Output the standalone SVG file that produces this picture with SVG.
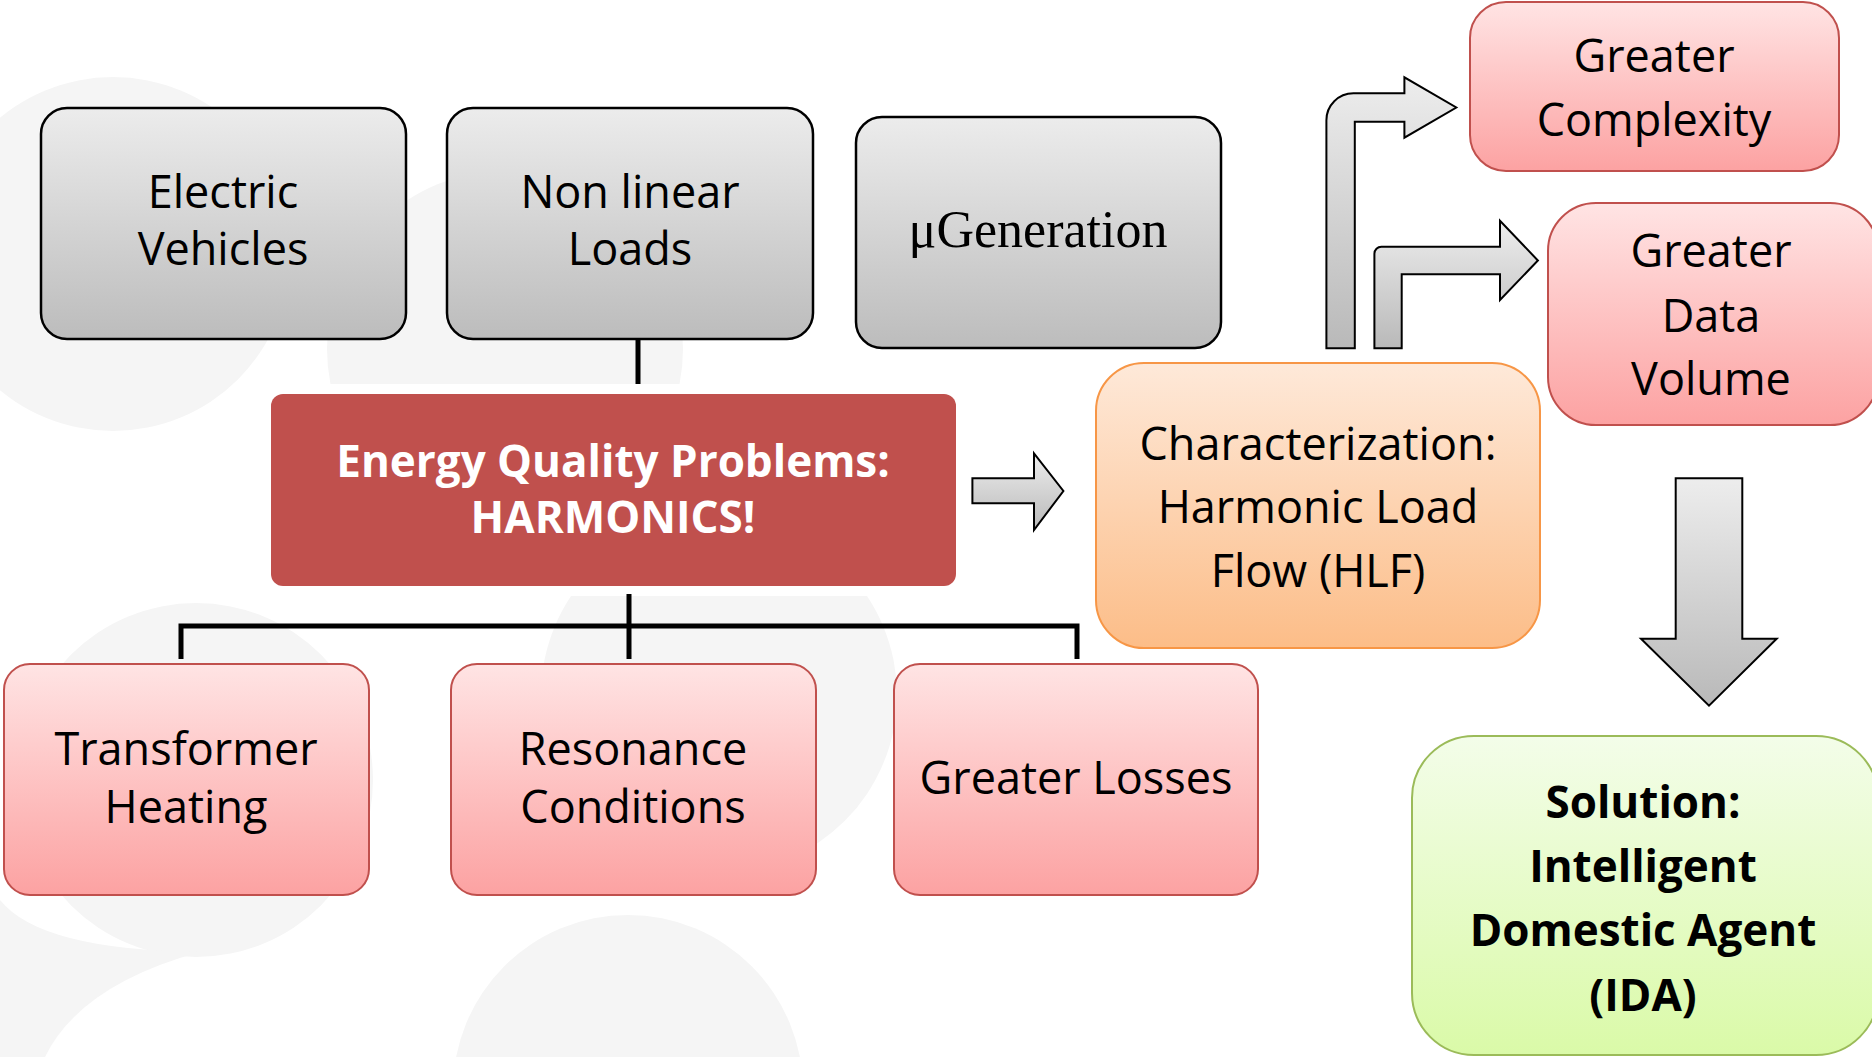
<svg xmlns="http://www.w3.org/2000/svg" width="1872" height="1057" viewBox="0 0 1872 1057">
<defs>
<linearGradient id="gGray" x1="0" y1="0" x2="0" y2="1"><stop offset="0" stop-color="#ececec"/><stop offset="1" stop-color="#bcbcbc"/></linearGradient>
<linearGradient id="gArrow" x1="0" y1="0" x2="0" y2="1"><stop offset="0" stop-color="#ededed"/><stop offset="1" stop-color="#b9b9b9"/></linearGradient>
<linearGradient id="gPink" x1="0" y1="0" x2="0" y2="1"><stop offset="0" stop-color="#ffe4e4"/><stop offset="1" stop-color="#fca2a2"/></linearGradient>
<linearGradient id="gOrange" x1="0" y1="0" x2="0" y2="1"><stop offset="0" stop-color="#fee9d9"/><stop offset="1" stop-color="#fcbd88"/></linearGradient>
<linearGradient id="gGreen" x1="0" y1="0" x2="0" y2="1"><stop offset="0" stop-color="#f3fde9"/><stop offset="1" stop-color="#dafaa8"/></linearGradient>
<style>
.gray{fill:url(#gGray);stroke:#000;stroke-width:2.5}
.pink{fill:url(#gPink);stroke:#c0504d;stroke-width:2}
.arrow{fill:url(#gArrow);stroke:#000;stroke-width:2;stroke-linejoin:miter}
.t{font-family:"Open Sans","Liberation Sans",sans-serif;font-size:45px;fill:#000;text-anchor:middle}
.b{font-family:"Open Sans","Liberation Sans",sans-serif;font-weight:bold;text-anchor:middle}
.line{stroke:#000;stroke-width:5;fill:none}
.blob{fill:#f5f5f5}
</style>
</defs>
<rect width="1872" height="1057" fill="#fff"/>
<g id="background">
<circle class="blob" cx="113" cy="254" r="177"/>
<circle class="blob" cx="505" cy="349" r="178"/>
<circle class="blob" cx="719" cy="695" r="178"/>
<circle class="blob" cx="628" cy="1090" r="175"/>
<circle class="blob" cx="196" cy="780" r="177"/>
<path class="blob" d="M0,1057 L0,900 Q40,950 200,952 Q80,985 45,1057 Z"/>
<rect x="250" y="384" width="760" height="212" fill="#fff"/>
</g>
<g id="connectors">
<line class="line" x1="638" y1="339" x2="638" y2="384"/>
<line class="line" x1="629" y1="594" x2="629" y2="659"/>
<polyline class="line" points="181,659 181,626 1077,626 1077,659"/>
<path class="arrow" d="M972.4,478.3 H1034 V453.3 L1063.4,491 L1034,530 V503.3 H972.4 Z"/>
<path class="arrow" d="M1326.4,348.3 V120.5 A27,27 0 0 1 1353.4,93.3 H1404.4 V77.3 L1456.3,107.5 L1404.4,137.7 V121.7 H1354.8 V348.3 Z"/>
<path class="arrow" d="M1374.4,348.3 V253.7 A7,7 0 0 1 1381.4,246.7 H1500 V220.7 L1537.9,260.5 L1500,300 V274.3 H1401.7 V348.3 Z"/>
<path class="arrow" d="M1675.7,478.2 H1742.3 V638.8 H1776.7 L1709,705.7 L1641,638.8 H1675.7 Z"/>
</g>
<g id="electric-vehicles">
<rect class="gray" x="41" y="108" width="365" height="231" rx="26"/>
<text class="t" x="223" y="208" font-size="46">Electric</text>
<text class="t" x="223" y="265" font-size="46">Vehicles</text>
</g>
<g id="non-linear-loads">
<rect class="gray" x="447" y="108" width="366" height="231" rx="26"/>
<text class="t" x="630" y="208" font-size="46">Non linear</text>
<text class="t" x="630" y="265" font-size="46">Loads</text>
</g>
<g id="ugeneration">
<rect class="gray" x="856" y="117" width="365" height="231" rx="26"/>
<text x="1038" y="247" font-family="'Liberation Serif','Times New Roman',serif" font-size="52" text-anchor="middle" fill="#000">μGeneration</text>
</g>
<g id="energy-quality">
<rect x="271" y="394" width="685" height="192" rx="12" fill="#c0504d"/>
<text class="b" x="613" y="477" font-size="44" fill="#fff">Energy Quality Problems:</text>
<text class="b" x="613" y="533" font-size="44" fill="#fff">HARMONICS!</text>
</g>
<g id="transformer-heating">
<rect class="pink" x="4" y="664" width="365" height="231" rx="26"/>
<text class="t" x="186" y="765">Transformer</text>
<text class="t" x="186" y="823">Heating</text>
</g>
<g id="resonance-conditions">
<rect class="pink" x="451" y="664" width="365" height="231" rx="26"/>
<text class="t" x="633" y="765">Resonance</text>
<text class="t" x="633" y="823">Conditions</text>
</g>
<g id="greater-losses">
<rect class="pink" x="894" y="664" width="364" height="231" rx="26"/>
<text class="t" x="1076" y="794">Greater Losses</text>
</g>
<g id="characterization">
<rect x="1096" y="363" width="444" height="285" rx="48" fill="url(#gOrange)" stroke="#f79646" stroke-width="2"/>
<text class="t" x="1318" y="460" font-size="46">Characterization:</text>
<text class="t" x="1318" y="523" font-size="46">Harmonic Load</text>
<text class="t" x="1318" y="587" font-size="46">Flow (HLF)</text>
</g>
<g id="greater-complexity">
<rect class="pink" x="1470" y="2" width="369" height="169" rx="36"/>
<text class="t" x="1654" y="72">Greater</text>
<text class="t" x="1654" y="136">Complexity</text>
</g>
<g id="greater-data-volume">
<rect class="pink" x="1548" y="203" width="330" height="222" rx="48"/>
<text class="t" x="1711" y="267">Greater</text>
<text class="t" x="1711" y="332">Data</text>
<text class="t" x="1711" y="395">Volume</text>
</g>
<g id="solution">
<rect x="1412" y="736" width="466" height="319" rx="62" fill="url(#gGreen)" stroke="#9bbb59" stroke-width="2"/>
<text class="b" x="1643" y="818" font-size="44" fill="#000">Solution:</text>
<text class="b" x="1643" y="882" font-size="44" fill="#000">Intelligent</text>
<text class="b" x="1643" y="946" font-size="44" fill="#000">Domestic Agent</text>
<text class="b" x="1643" y="1011" font-size="44" fill="#000">(IDA)</text>
</g>
</svg>
